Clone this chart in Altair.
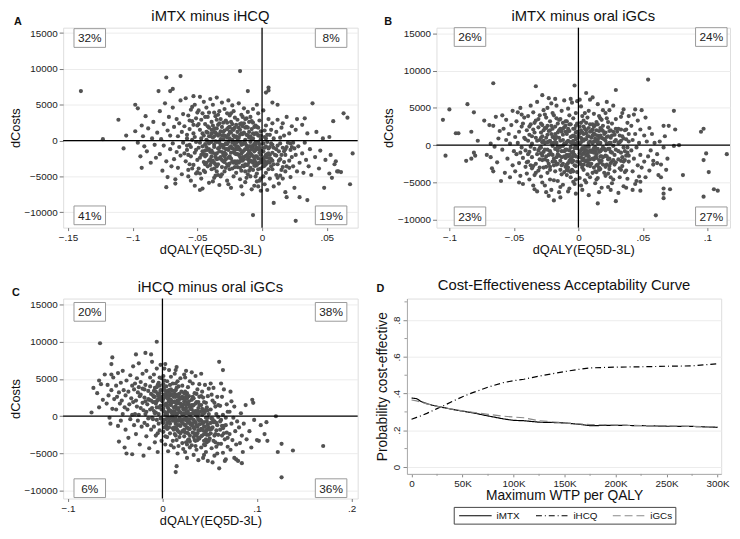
import altair as alt
import pandas as pd

FONT = "Liberation Sans"
DOT = "#525252"

# ---------------- data (dQALY in thousandths, dCosts in currency units) ----------------
A_TITLE = "iMTX minus iHCQ"
A_PCT = ["32%", "8%", "41%", "19%"]  # NW, NE, SW, SE
A_POINTS = [
    (-140, 6900), (-123, 200), (-111, 2900), (-107, -1100), (-105, 700), (-98, 5000), (-96, 4500),
    (-93, -3800), (-90, 3400), (-80, 6900), (-74, 8800), (-63, 9000), (-71, 6900), (-69, 7200),
    (-74, -6500), (-48, -6900), (-17, 9700), (-11, 6900), (5, 7400), (-7, -10400), (26, -11200),
    (63, 3800), (66, 3200), (70, -1800), (68, -6100), (39, 5200), (52, 500), (55, 2700), (48, -6600),
    (57, -2900), (59, -4300), (35, -8300), (9, -8700), (19, -7900),
    (-98, 1300), (-96, -300), (-94, -2200), (-92, 600), (-91, -800), (-93, 2100),
    (-89, -1500), (-88, 1700), (-86, -3100), (-85, 300), (-84, 2600), (-83, -600), (-82, -2400), (-81, 1100),
    (-79, 4100), (-79, -1900), (-78, 200), (-77, -4200), (-76, 2300), (-76, -700), (-75, 5200), (-74, -2900),
    (-73, 1400), (-73, -5100), (-72, 3300), (-71, -1200), (-71, 700), (-70, -3600),
    (-69, 4600), (-69, -400), (-68, 1900), (-68, -2600), (-67, -5400), (-66, 3000), (-66, -1600), (-65, 600),
    (-65, -3800), (-64, 2400), (-64, -900), (-63, 5600), (-63, -2100), (-62, 1200), (-62, -4700), (-61, 3700),
    (-61, -300), (-60, -1800), (-60, 2000), (-67, -6000),
    (-59, 5900), (-59, -2900), (-58, 800), (-58, -1300), (-57, 3500), (-57, -4100), (-56, 1600), (-56, -600),
    (-55, 4300), (-55, -2200), (-55, -5600), (-54, 2700), (-54, 100), (-53, -3400), (-53, 1000), (-52, 5000),
    (-52, -1700), (-52, -6300), (-51, 3100), (-51, -200), (-51, -4600), (-50, 2100), (-50, -2700), (-56, -3300),
    (-54, 4700), (-58, -700), (-53, 6200), (-57, -5000),
    (-49, -1000), (-49, 4200), (-49, -3900), (-48, 1500), (-48, -2400), (-48, 6100), (-47, 300), (-47, -5300),
    (-47, 2900), (-46, -1500), (-46, 3800), (-46, -6700), (-45, 700), (-45, -3000), (-45, 5400), (-44, -500),
    (-44, 2300), (-44, -4400), (-43, 1200), (-43, -2000), (-43, 4600), (-42, -3600), (-42, -100), (-42, 3300),
    (-41, -5900), (-41, 1800), (-41, -1200), (-40, 5800), (-40, -2600), (-40, 600), (-46, -800), (-44, -3300),
    (-42, 2000), (-48, -4600), (-41, 3900), (-45, -1900),
    (-39, -1400), (-39, 2600), (-39, -4000), (-38, 400), (-38, -2800), (-38, 5000), (-37, -600), (-37, 1700),
    (-37, -5200), (-36, 3400), (-36, -1900), (-36, -3300), (-35, 900), (-35, -200), (-35, 6000), (-34, -4800),
    (-34, 2200), (-34, -1100), (-33, 4100), (-33, -2500), (-33, -6200), (-32, 1300), (-32, -700), (-32, 3000),
    (-31, -3700), (-31, -1600), (-31, 5300), (-30, 200), (-30, -2900), (-30, 2500), (-39, 1000), (-38, -5700),
    (-37, 3900), (-36, -2300), (-35, -4300), (-34, 700), (-33, -300), (-32, -5000), (-31, 1900), (-30, -1000),
    (-35, 2900), (-37, -3100),
    (-29, -1700), (-29, 4400), (-29, -4300), (-28, 600), (-28, -2600), (-28, 2800), (-27, -500), (-27, -5600),
    (-27, 1600), (-26, 5600), (-26, -1300), (-26, -3500), (-25, 300), (-25, 3500), (-25, -2200), (-24, -6600),
    (-24, 1100), (-24, -800), (-23, 2300), (-23, -3900), (-23, 4900), (-22, -1600), (-22, -200), (-22, -5000),
    (-21, 1800), (-21, 3200), (-21, -2900), (-20, -1000), (-20, 600), (-20, -4500), (-29, 1400), (-28, -1200),
    (-27, 3800), (-26, -6100), (-25, -3200), (-24, 2600), (-23, -1100), (-22, 4100), (-21, -600), (-20, 2200),
    (-26, 800), (-24, -2500), (-22, 1500), (-28, -3800),
    (-19, -1900), (-19, 2900), (-19, -3700), (-18, 400), (-18, -1000), (-18, 5200), (-17, -5400), (-17, 1500),
    (-17, -2300), (-16, 3600), (-16, -600), (-16, -4200), (-15, 900), (-15, -2800), (-15, -7500), (-14, 2400),
    (-14, -1400), (-14, 4500), (-13, -3300), (-13, 100), (-13, -5800), (-12, 1900), (-12, -2100), (-12, 3100),
    (-11, -900), (-11, -4700), (-11, 700), (-10, -3000), (-10, 2600), (-10, -1500), (-19, 1200), (-18, -3100),
    (-17, -200), (-16, -6400), (-15, 3300), (-14, -2600), (-13, -1200), (-12, -5200), (-11, 4000), (-10, 400),
    (-17, 2300), (-15, -500), (-13, 1800), (-11, -2600),
    (-9, -1800), (-9, 3300), (-9, -5000), (-8, 200), (-8, -2900), (-8, 1600), (-7, -700), (-7, -4100),
    (-7, 4400), (-6, -1500), (-6, 900), (-6, -6300), (-5, -3500), (-5, 2100), (-5, -300), (-4, -2200),
    (-4, 5000), (-4, -4600), (-3, 700), (-3, -1200), (-3, -3200), (-2, 2800), (-2, -500), (-2, -5600),
    (-1, 1300), (-1, -2600), (-1, -7000), (-9, -800), (-8, -6800), (-7, 2500), (-6, -2700), (-5, -5000),
    (-4, 1000), (-3, 3800), (-2, -1700), (-1, -3900), (-5, -1300), (-3, -6400), (-7, -1000), (-1, 200),
    (1, -1500), (1, 4200), (1, -3600), (2, 500), (2, -2300), (2, -6100), (3, -800), (3, 2100),
    (3, -4500), (4, -1900), (4, -200), (4, -6900), (5, 3000), (5, -3000), (5, -1100), (6, 800),
    (6, -5300), (7, -2600), (7, 1500), (7, -400), (8, -4000), (8, -1700), (8, 5300), (9, -3300),
    (9, 300), (9, -6400), (3, 6700), (5, 7000), (2, -2900), (6, -2000), (8, 2400), (1, -5000),
    (11, -2100), (11, 1200), (11, -4800), (12, -700), (12, -3300), (12, 2900), (13, -1500), (13, -6000),
    (14, 400), (14, -2600), (15, -4100), (15, 1800), (16, -1000), (16, -5300), (17, -3000), (17, 700),
    (18, -2000), (18, -7200), (19, 3300), (19, -3600), (12, 5000), (14, -400), (16, 2400), (18, -1200),
    (21, -2800), (21, 1000), (22, -5100), (22, -1300), (23, 2000), (24, -3600), (24, -300), (25, -6600),
    (26, -2000), (26, 1500), (27, -4300), (27, 3000), (28, -800), (29, -3100), (29, -7900), (23, -900),
    (31, -1800), (31, 2200), (32, -4500), (33, -300), (34, -2700), (35, 1000), (36, -3600), (37, -1200),
    (38, -4800), (33, 3100),
    (41, -2300), (42, 1200), (44, -3900), (45, -1400), (47, 300), (49, -2700),
    (52, -4600), (54, -5200), (56, -3300), (58, -4300), (61, -4400), (53, -2000),
]
A_CORE = [
    (-58, 300), (-57, -2000), (-56, 2800), (-55, -900), (-54, -3900), (-53, 2200), (-52, 500), (-51, -1300),
    (-50, 3900), (-50, -4400), (-49, 2300), (-48, -300), (-47, -2000), (-46, 1000), (-45, -4200), (-44, 3300),
    (-43, -900), (-42, 1100), (-41, -2800), (-40, -1600), (-39, -200), (-38, 2100), (-37, -3900), (-36, 1100),
    (-35, -2600), (-34, 3600), (-33, -1500), (-32, 200), (-31, -4700), (-30, 1200), (-39, -3000), (-37, 600),
    (-35, 1700), (-33, 2400), (-31, 700), (-29, -600), (-28, -1900), (-27, 400), (-26, -2400), (-25, -1000),
    (-24, 3800), (-23, 100), (-22, -3100), (-21, -1800), (-20, -3200), (-29, -3000), (-27, 2500), (-25, 1900),
    (-23, -2900), (-21, 500), (-19, -800), (-18, 1800), (-17, -1300), (-16, -2600), (-15, 2000), (-14, -300),
    (-13, -4300), (-12, 800), (-11, -1900), (-10, -4200), (-19, 300), (-18, -2000), (-17, -3800), (-16, 1000),
    (-15, -1600), (-14, -3600), (-13, 3000), (-12, -3400), (-11, 1800), (-10, -2300), (-9, -2800), (-8, -1200),
    (-7, -3100), (-6, -500), (-5, -2200), (-4, -3400), (-3, -200), (-2, -3100), (-1, -1400), (-9, 600),
    (-8, 2700), (-7, 300), (-6, -3500), (-5, 1000), (-4, -1000), (-3, 1800), (-2, 700), (-1, -5300),
    (-6, 1900), (-4, -5700), (1, -2600), (2, -1000), (3, -2000), (4, -3000), (5, -4000), (6, -900),
    (7, -3600), (8, -2800), (9, -1000), (10, -2000), (2, 1400), (4, 800), (6, -3100), (8, -600),
    (11, -1200), (13, -2800), (15, -2000), (17, -1500), (19, -900), (14, -4900), (16, -3700), (18, -4300),
    (21, -3800), (23, -2300), (25, -1100), (12, -5200), (20, -300), (22, -400), (-36, -4900), (-44, -1400),
    (-44, -2200), (-43, 100), (-42, -1300), (-41, 600), (-40, -3400), (-39, 1500), (-38, -1700), (-37, -900),
    (-36, -100), (-35, -1800), (-34, -2500), (-33, 900), (-32, -2300), (-31, -600), (-30, -2000), (-29, 700),
    (-28, -400), (-27, -3300), (-26, -200), (-25, 1200), (-24, -1700), (-23, -300), (-22, 700), (-21, -3700),
    (-20, -1900), (-19, -2900), (-18, -100), (-17, 800), (-16, -1800), (-15, -3500), (-14, 1100), (-13, -2200),
    (-12, -700), (-11, -3400), (-10, -800), (-9, -3800), (-8, -2000), (-7, 1000), (-6, -2300), (-5, -600),
    (-4, 1900), (-3, -2500), (-2, -1000), (-1, -2000), (0, -3000), (1, -400), (2, -3500), (3, 300),
    (4, -2400), (5, -1800), (-43, -3100), (-41, -400), (-39, -2200), (-37, 1200), (-35, -3600), (-33, -1000),
    (-31, -2700), (-29, -2200), (-27, -1200), (-25, -4000), (-23, 1600), (-21, -1300), (-19, -1200), (-17, -2900),
    (-15, -2300), (-13, -400), (-11, -1200), (-9, -200), (-7, -2200), (-5, -3000), (-3, -4000), (-1, 700),
    (1, -3100), (3, -3300), (6, -2500), (-26, 1800), (-16, 2400), (-34, -3300), (-20, -300), (-10, 1200),
]

B_TITLE = "iMTX minus oral iGCs"
B_PCT = ["26%", "24%", "23%", "27%"]
B_POINTS = [
    (-105, 3400), (-100, 4800), (-103, -1400), (-95, 1600), (-93, 1600), (-86, 5500), (-83, 1800),
    (-87, -2100), (-83, -1800), (-81, 4400), (-81, -1000), (-80, -1400), (-78, 600), (-73, 3300),
    (-71, -1300), (-66, 8300), (-68, 200), (-67, -3100), (-66, -3500), (-60, -4800), (-33, 7900),
    (-34, -5900), (-19, -7400), (-3, 8000), (54, 8800), (74, 4600), (66, 2600), (70, 2600), (75, 2100),
    (95, 1800), (97, 2200), (74, -100), (78, 0), (115, -1200), (99, -1100), (97, -2000), (101, -3600),
    (81, -4000), (97, -6900), (105, -5900), (108, -6100), (60, -9400), (66, -5800), (66, -6500),
    (71, -5900), (66, -7100), (62, -4000), (64, -4300), (68, -3300), (48, -4900), (48, -6100),
    (58, -2100), (61, -2400), (29, -7500), (15, -7800), (29, 7400), (-14, -7000), (-23, -6800), (-25, -6300),
    (-69, 2700), (-68, -1600), (-66, 2600), (-65, -200), (-64, 3800), (-63, -2300), (-62, 900), (-61, 1900),
    (-59, 4000), (-59, -600), (-58, 2200), (-57, -3700), (-56, 700), (-56, 3400), (-55, -1800), (-54, 1500),
    (-53, -4300), (-53, 200), (-52, 2700), (-51, -2700), (-51, 4600), (-50, -800),
    (-49, 1100), (-49, -3500), (-48, 3200), (-48, -1200), (-47, 4400), (-47, 300), (-46, -2400), (-46, 1800),
    (-45, -4100), (-45, 5000), (-44, -300), (-44, 2500), (-43, -1700), (-43, -5200), (-42, 1000), (-42, 3700),
    (-41, -2900), (-41, -700), (-40, 2000), (-40, -3800), (-44, 4100), (-46, -5000),
    (-39, 600), (-39, -2200), (-39, 3900), (-38, -4600), (-38, 1400), (-38, -900), (-37, 2800), (-37, 5300),
    (-36, -3100), (-36, 200), (-36, -1600), (-35, 4400), (-35, 2100), (-34, -4000), (-34, -500), (-33, 1000),
    (-33, 3300), (-33, -2500), (-32, -6200), (-32, 5800), (-32, -1200), (-31, 2400), (-31, -3400), (-30, 700),
    (-30, 4000), (-30, -1900), (-37, -2700), (-35, -5400), (-31, -700), (-34, 1700),
    (-29, -300), (-29, 2900), (-29, -4200), (-28, 1200), (-28, -2000), (-28, 6700), (-27, 4700), (-27, -900),
    (-27, -3000), (-26, 300), (-26, 2300), (-26, -5400), (-25, -1500), (-25, 3700), (-25, 1000), (-24, -3700),
    (-24, 5000), (-24, -600), (-23, 1900), (-23, -2500), (-23, 6300), (-22, -4600), (-22, 600), (-22, 3200),
    (-21, -1200), (-21, -6000), (-21, 1500), (-20, 4300), (-20, -2200), (-20, -100), (-28, -5000), (-26, 4100),
    (-24, 2600), (-22, -3300), (-29, 1700), (-21, 5600),
    (-19, -1800), (-19, 1100), (-19, 4000), (-18, -3500), (-18, -500), (-18, 2500), (-17, 5300), (-17, -2600),
    (-17, 300), (-16, -4800), (-16, 1700), (-16, -1200), (-15, 3400), (-15, -300), (-15, -6300), (-14, 2200),
    (-14, -2100), (-14, 600), (-13, -3900), (-13, 4600), (-13, -800), (-12, 1400), (-12, -5300), (-12, 3000),
    (-11, -1500), (-11, 200), (-11, 6000), (-10, -2900), (-10, 2600), (-10, -600), (-19, -4700), (-17, 3600),
    (-15, 1000), (-13, -1600), (-11, -3600), (-18, 6200), (-16, -200), (-14, -5600), (-12, -100), (-10, 1800),
    (-9, -1300), (-9, 3200), (-9, -4000), (-8, 600), (-8, -2400), (-8, 4900), (-7, -700), (-7, 1900),
    (-7, -5800), (-6, 2800), (-6, -1900), (-6, -300), (-5, -3300), (-5, 5700), (-5, 1200), (-4, -900),
    (-4, -4900), (-4, 3600), (-3, 200), (-3, -2700), (-3, 2200), (-2, -1500), (-2, 4300), (-2, -6500),
    (-1, 900), (-1, -3600), (-1, -400), (-9, 1500), (-8, -6200), (-7, 4000), (-6, -4300), (-5, -1000),
    (-4, 600), (-3, -5200), (-2, 1700), (-1, 2900), (-1, 5900), (-6, 6200), (-8, -3400), (-4, -2100),
    (-2, -200), (-9, -2600),
    (1, -1100), (1, 2500), (1, -4400), (2, 400), (2, -2600), (2, 5200), (3, -400), (3, 1700),
    (3, -6000), (4, 3300), (4, -1800), (4, -3300), (5, 800), (5, -900), (5, 4300), (6, -2200),
    (6, -5000), (6, 2000), (7, -200), (7, 3700), (7, -3900), (8, 1200), (8, -1500), (8, -6700),
    (9, 2800), (9, -2800), (9, 500), (1, 6100), (2, -5400), (3, 3900), (4, -500), (5, -4700),
    (6, 7000), (7, -1200), (8, 4600), (9, -4300), (2, 1000), (4, 1500), (6, -700), (8, -200),
    (3, -2000), (9, 6100),
    (11, -700), (11, 2100), (11, -3700), (12, 500), (12, -1900), (12, 4200), (13, -5100), (13, 1400),
    (13, -300), (14, 3100), (14, -2700), (14, -1200), (15, 700), (15, -4400), (15, 5500), (16, -2000),
    (16, 1900), (16, -6300), (17, -800), (17, 3600), (17, -3200), (18, 1000), (18, -1500), (18, -5700),
    (19, 2600), (19, -300), (19, 4700), (11, 6400), (12, -3000), (13, 2700), (14, -4600), (15, -500),
    (16, 3900), (17, -2300), (18, 2100), (19, -2600), (11, 300), (13, -1600), (15, 1300), (17, 300),
    (21, -1400), (21, 1700), (21, -4100), (22, 200), (22, 3600), (22, -2600), (23, -500), (23, -5600),
    (23, 2400), (24, -1800), (24, 4700), (24, -3200), (25, 1000), (25, -900), (25, -6000), (26, 2900),
    (26, -2200), (27, -100), (27, -4600), (27, 5300), (28, 1400), (28, -1300), (28, -3500), (29, 3500),
    (29, -600), (21, 4300), (23, -3800), (25, 2000), (26, -5100), (28, -2600), (29, 700), (22, 5800),
    (24, 300), (26, -1000),
    (31, -1900), (31, 2200), (32, -4300), (32, 400), (33, 3800), (33, -1000), (34, -2800), (34, 1200),
    (35, -5500), (35, 4800), (35, -300), (36, 2000), (36, -3600), (37, -1400), (37, 800), (38, 3000),
    (38, -4500), (39, -2200), (39, 1500), (31, -6400), (32, -3100), (33, 600), (34, 4300), (36, -800),
    (37, -5700), (38, -300), (39, 3900), (33, -2100),
    (41, -700), (41, 2600), (42, -3500), (42, 700), (43, 4100), (43, -1800), (44, -5200), (44, 1500),
    (45, -300), (46, 3300), (46, -2700), (47, -4200), (47, 300), (48, 2100), (48, -1300), (49, 4700),
    (49, -3000), (42, -6000), (45, -4800), (44, 4800),
    (51, 1300), (51, -2200), (52, -4300), (52, 3700), (53, 500), (54, -1500), (55, -3400), (55, 2300),
    (56, -700), (57, 1500), (58, -2600), (59, 300),
    (61, -1200), (63, 500), (64, -2600), (66, -300), (67, 1200), (69, -1800),
]
B_CORE = [
    (-45, -1000), (-43, 2900), (-41, 800), (-40, -2300), (-39, -1200), (-38, 2500), (-37, -200), (-36, 1200),
    (-35, -2800), (-34, 3000), (-33, -3700), (-32, 600), (-31, 3500), (-30, -3000), (-29, -1100), (-28, 400),
    (-27, 2000), (-26, -1900), (-25, -2900), (-24, 1400), (-23, -1300), (-22, 2000), (-21, 300), (-20, 1100),
    (-19, -2700), (-18, 1500), (-17, -1600), (-16, 2900), (-15, -1400), (-14, -3300), (-13, 1800), (-12, -2500),
    (-11, 2400), (-10, -1700), (-9, 400), (-8, -1500), (-7, 2800), (-6, 1100), (-5, -2300), (-4, 2200),
    (-3, -1300), (-2, 2600), (-1, -2200), (-9, -3300), (-7, -2100), (-5, 300), (-3, 1200), (-1, 1800),
    (-8, 1900), (-4, -3500), (1, 200), (2, -1600), (3, 800), (4, 2500), (5, -2100), (6, 800),
    (7, 1200), (8, -2400), (9, 1800), (10, -900), (1, 1600), (2, 3000), (3, -3000), (4, -1100),
    (5, 2200), (6, -1400), (7, -2700), (8, 300), (9, -1900), (10, 1000), (11, -1800), (12, 1600),
    (13, -800), (14, 500), (15, -2600), (16, 1000), (17, 2300), (18, -600), (19, -1600), (20, 1500),
    (11, 1300), (12, -1000), (13, -3500), (14, 2000), (15, 2800), (16, -3300), (17, -1500), (18, 3400),
    (19, 900), (20, -3700), (21, 600), (22, -1500), (23, 1200), (24, -500), (25, -2400), (26, 1300),
    (27, -2000), (28, 500), (29, -2300), (30, 1800), (21, -2900), (23, 3100), (25, -4300), (27, 1800),
    (29, 2200), (31, -800), (32, 1300), (33, -3300), (34, -1600), (35, 900), (36, -2000), (37, 2100),
    (38, -1000), (39, 500), (31, 300), (33, 2100), (35, -2200), (37, -3400), (39, -1400), (-2, -4600),
    (-30, -400), (-29, 1000), (-28, -1400), (-27, 600), (-26, -600), (-25, 2300), (-24, -2100), (-23, 500),
    (-22, -800), (-21, 2600), (-20, -1300), (-19, 300), (-18, -2200), (-17, 1100), (-16, -700), (-15, 2000),
    (-14, -200), (-13, -2700), (-12, 700), (-11, -800), (-10, 3200), (-9, -600), (-8, 2200), (-7, -1300),
    (-6, 400), (-5, -1600), (-4, 1300), (-3, -400), (-2, -2800), (-1, 300), (0, 1300), (1, -2300),
    (2, 2000), (3, -1200), (4, 600), (5, -300), (6, 1600), (7, -2000), (8, 2300), (9, -700),
    (10, -2500), (11, 2800), (12, -400), (13, 900), (14, -1700), (15, 300), (16, -900), (17, 1300),
    (18, -2100), (19, 1900), (20, -500), (21, -700), (22, 1100), (23, -1900), (24, 1900), (25, 300),
    (-28, 2700), (-24, 400), (-20, 2200), (-16, -2500), (-12, 2200), (-8, -3000), (-4, -1300), (0, -1600),
    (4, -2600), (8, -900), (12, 2500), (16, -3000), (20, 800), (24, -2800), (-22, -2900), (-18, 800),
    (-14, 3500), (-10, 200), (-6, -3600), (-2, 800), (2, -700), (6, 3000), (10, 1900), (14, -3600),
]

C_TITLE = "iHCQ minus oral iGCs"
C_PCT = ["20%", "38%", "6%", "36%"]
C_POINTS = [
    (-66, 9800), (-75, 500), (-73, 3800), (-67, 4800), (-55, -1000), (-54, 7000), (-53, 7900),
    (-54, 5600), (-6, 10000), (-46, -3400), (15, -6700), (14, -7500), (-32, -5100), (170, -4000),
    (138, -4600), (126, -8200), (122, -4800), (126, -3700), (120, 0), (95, 2200), (96, 1800),
    (110, -800), (60, 7300), (64, 6200), (84, -6300), (80, -6000), (60, -7000), (102, -3300),
    (111, -3300), (-40, -4200), (-38, -5000), (-20, -5300), (-28, 8300), (-18, 8500), (-12, 8300),
    (-69, 3100), (-67, 1200), (-65, 4300), (-63, 2200), (-61, 5600),
    (-59, 1700), (-58, 4200), (-57, 2800), (-56, -200), (-54, 3500), (-53, 1000), (-52, 5200), (-51, 2300),
    (-49, 4100), (-49, 900), (-48, 2600), (-47, -1300), (-47, 5800), (-46, 3200), (-45, 1700), (-44, -600),
    (-44, 4500), (-43, 2100), (-42, 6100), (-42, 300), (-41, 3500), (-40, 1200),
    (-39, -1800), (-39, 2800), (-38, 4800), (-37, 900), (-36, 3300), (-36, -2900), (-35, 1600), (-34, 5500),
    (-34, -400), (-33, 2400), (-32, 4100), (-32, 200), (-31, 6700), (-31, 1900), (-30, -1200), (-30, 3600),
    (-29, 300), (-29, 4400), (-28, 2100), (-28, -2400), (-27, 5100), (-27, 1300), (-26, -600), (-26, 3200),
    (-25, 7100), (-25, 200), (-24, 2700), (-24, -3800), (-23, 4600), (-23, 1100), (-22, -1400), (-21, 3700),
    (-21, 5700), (-20, 800),
    (-19, 2500), (-19, -900), (-18, 4200), (-18, 300), (-17, -2700), (-17, 6100), (-16, 1600), (-15, -300),
    (-15, 3400), (-14, -4300), (-14, 2200), (-13, 5200), (-13, 900), (-12, -1800), (-12, 3000), (-11, 7300),
    (-11, -200), (-10, 1900), (-10, 4700), (-16, -1200),
    (-9, 2600), (-9, -1400), (-9, 5600), (-8, 400), (-8, 3800), (-7, -2600), (-7, 1700), (-6, 6400),
    (-6, -500), (-5, 3000), (-5, -4800), (-4, 1200), (-4, 4500), (-3, -1900), (-3, 2400), (-2, -300),
    (-2, 6900), (-2, 3500), (-1, 900), (-1, -3300), (-1, 5100), (-4, -1000), (-6, 2000), (-8, -3500),
    (1, -2100), (1, 2300), (1, 5400), (2, 600), (2, -500), (2, 3900), (3, -3800), (3, 1600),
    (3, 7000), (4, -1300), (4, 2900), (5, 200), (5, -2800), (5, 4700), (6, 1100), (6, -4700),
    (6, 3400), (7, -700), (7, 2000), (7, 6200), (8, -2300), (8, 800), (8, 4200), (9, -3900),
    (9, 1500), (9, -100), (1, -900), (2, 6400), (3, -2700), (4, 4000), (5, 1300), (7, -1500),
    (8, 2800), (9, 5300),
    (11, -1600), (11, 1900), (11, 4400), (12, -300), (12, -4200), (12, 2600), (13, 600), (13, -2400),
    (13, 5700), (14, 1300), (14, -1000), (14, 3500), (15, -3200), (15, 200), (15, 6600), (16, 2100),
    (16, -1900), (16, -5000), (17, 900), (17, 4000), (17, -600), (18, -2800), (18, 1700), (18, 3000),
    (19, -1300), (19, 500), (19, 5100), (11, -3300), (12, 700), (13, 3000), (14, -2600), (15, 1700),
    (16, 4700), (17, -4000), (18, -200), (19, 2400), (14, 6200), (16, -600),
    (21, -2000), (21, 1300), (21, 4100), (22, -400), (22, -4400), (22, 2400), (23, 300), (23, -2700),
    (23, 5600), (24, 1000), (24, -1200), (24, 3300), (25, -3500), (25, -200), (25, 6100), (26, 1800),
    (26, -2200), (26, -5600), (27, 700), (27, 3900), (27, -900), (28, -3100), (28, 1500), (28, 2700),
    (29, -1700), (29, 200), (29, 4700), (21, -3600), (22, 900), (23, 2000), (24, -4800), (25, 1100),
    (26, 3100), (27, -1600), (28, -400), (29, -4200), (24, 5200), (26, -3800),
    (31, -1200), (31, 2200), (31, -3900), (32, 400), (32, -2200), (32, 4400), (33, -500), (33, -5200),
    (33, 1500), (34, 3100), (34, -1700), (34, -3200), (35, 700), (35, -800), (35, 5400), (36, -2600),
    (36, 1900), (36, -4500), (37, -100), (37, 3600), (38, -1900), (38, 1100), (38, -5900), (39, 2600),
    (39, -3000), (39, -600), (31, 5900), (33, -2800), (35, -4000), (36, 3000), (37, -1400), (38, 300),
    (39, 4300), (34, 600),
    (41, -1700), (41, 1500), (41, -4200), (42, 200), (42, -2600), (42, 3300), (43, -900), (43, -5600),
    (44, 1900), (44, -1400), (44, -3300), (45, 600), (45, 4200), (46, -2100), (46, -200), (46, -4800),
    (47, 1200), (47, -3500), (48, 2700), (48, -1100), (48, -6000), (49, 300), (49, -2500), (41, 5700),
    (43, 2500), (45, -3900), (47, -700), (49, 3700), (44, -5200), (42, -1000),
    (51, -2300), (51, 900), (52, -4300), (52, -300), (53, 2100), (53, -1500), (54, -3300), (54, 3800),
    (55, -700), (55, -5300), (56, 1300), (56, -2400), (57, -4100), (57, 300), (58, 2600), (58, -1200),
    (59, -3700), (59, -100), (51, 4400), (53, -6200), (55, 1800), (57, -1900), (59, 1500), (52, 2900),
    (54, -800), (58, -5000),
    (61, -1800), (61, 1400), (62, -3700), (62, -500), (63, 2600), (63, -2600), (64, -4900), (64, 200),
    (65, -1300), (65, 3600), (66, -3100), (67, -200), (67, -5800), (68, 1600), (68, -2200), (69, -4100),
    (69, 600), (62, 4400), (66, -6000), (64, -1600),
    (71, -2400), (71, 600), (72, -4500), (73, -1000), (73, 2000), (74, -3200), (75, -200), (76, -5600),
    (76, 1300), (77, -2000), (78, -3800), (79, -700), (72, 3300), (78, -5800),
    (81, -1500), (82, -3600), (83, 400), (84, -2600), (85, -4800), (86, -1000), (88, 1500), (89, -3100),
    (92, -2000), (94, -4200), (97, -500), (100, -3200), (104, -1200), (108, -2400),
]
C_CORE = [
    (-25, 3900), (-23, 2900), (-21, 1800), (-19, 3600), (-17, 600), (-15, 2300), (-13, 4000), (-11, 1100),
    (-9, 3400), (-7, 500), (-5, 2200), (-3, 4100), (-1, 2600), (-8, 1900), (-6, 3900), (-4, 2700),
    (-2, 1400), (-12, 2100), (-18, 2000), (-10, -400), (1, 1000), (2, 2900), (3, 200), (4, 1700),
    (5, 3300), (6, -200), (7, 2700), (8, 1600), (9, 3600), (10, 400), (1, 3600), (2, -1500),
    (3, 2600), (4, 400), (5, -900), (6, 2300), (7, 800), (8, -1000), (9, 2200), (10, 2800),
    (11, 100), (12, 1200), (13, 2000), (14, -300), (15, 1000), (16, 2900), (17, 1800), (18, 600),
    (19, 1700), (20, -700), (11, 2900), (12, -1800), (13, -600), (14, 2600), (15, -1700), (16, 400),
    (17, 2600), (18, -1200), (19, -2300), (20, 1300), (21, 200), (22, 1600), (23, -1100), (24, 2200),
    (25, 500), (26, -600), (27, 1700), (28, 300), (29, -2600), (30, 1000), (21, 2600), (22, -2000),
    (23, 900), (24, -2200), (25, 2700), (26, -1500), (27, -3200), (28, -1700), (29, 1200), (30, -1100),
    (31, -300), (32, 1400), (33, -1500), (34, -700), (35, 1700), (36, -1200), (37, 700), (38, -2900),
    (39, 1500), (40, -500), (31, 900), (33, 500), (35, -2500), (37, -2300), (39, -1900), (41, -600),
    (42, -1800), (43, 700), (44, -2400), (45, -1400), (46, 900), (47, -2500), (48, -200), (49, -1500),
    (50, -3000), (51, -900), (53, -400), (55, -2600), (57, -900), (59, -2500), (61, -700), (63, -1300),
    (65, -2300), (67, -1200), (69, -2900), (44, 400), (46, -3100), (48, -3300), (52, -1700), (56, -3500),
    (-10, 2800), (-9, 700), (-8, 2600), (-7, 3300), (-6, 1200), (-5, 4200), (-4, 300), (-3, 3100),
    (-2, 2200), (-1, -300), (0, 2000), (1, 4300), (2, 1500), (3, 3400), (4, -400), (5, 2500),
    (6, 600), (7, 3500), (8, -300), (9, 700), (10, 1900), (11, 3400), (12, 400), (13, -1500),
    (14, 1800), (15, 3800), (16, -1200), (17, 1100), (18, 2300), (19, -400), (20, 2400), (21, -900),
    (22, 400), (23, 3100), (24, -500), (25, 1500), (26, 400), (27, -2300), (28, 2000), (29, -800),
    (30, 300), (31, 1500), (32, -1000), (33, 2400), (34, -2300), (35, 200), (36, 500), (37, -3200),
    (38, 1900), (39, -1100), (40, 600), (41, -2700), (42, 1000), (43, -1900), (44, -800), (45, -2400),
    (46, 1800), (47, -1800), (48, 800), (49, -3300), (0, -800), (2, 4800), (5, -1700), (8, 3100),
    (11, -600), (14, 4400), (17, -2100), (20, 3300), (23, -1800), (26, 2400), (29, -3400), (32, 2600),
    (35, -3300), (38, -400), (41, 2700), (44, -3800), (47, -200), (50, -1800), (-5, -2300), (-3, 5200),
]

# CEAC (panel D)
D_TITLE = "Cost-Effectiveness Acceptability Curve"
SERIES = ["iMTX", "iHCQ", "iGCs"]
WTP = [0, 5000, 10000, 15000, 20000, 25000, 30000, 40000, 50000, 60000, 75000, 90000,
       100000, 110000, 125000, 140000, 150000, 165000, 175000, 200000, 225000, 250000, 275000, 300000]
P_IMTX = [0.376, 0.372, 0.355, 0.345, 0.337, 0.331, 0.325, 0.314, 0.304, 0.295, 0.278, 0.262,
          0.254, 0.252, 0.244, 0.242, 0.240, 0.232, 0.225, 0.227, 0.225, 0.222, 0.221, 0.216]
P_IHCQ = [0.260, 0.270, 0.280, 0.292, 0.305, 0.318, 0.330, 0.357, 0.383, 0.405, 0.435, 0.460,
          0.470, 0.478, 0.495, 0.510, 0.520, 0.533, 0.540, 0.544, 0.546, 0.549, 0.551, 0.563]
P_IGCS = [0.365, 0.360, 0.352, 0.344, 0.337, 0.330, 0.325, 0.315, 0.306, 0.298, 0.287, 0.277,
          0.272, 0.268, 0.252, 0.245, 0.240, 0.235, 0.231, 0.228, 0.226, 0.224, 0.221, 0.217]
D_MINOR_P = [0.1, 0.3, 0.5, 0.7, 0.9]
D_MINOR_WTP = [25000, 75000, 125000, 175000, 225000, 275000]

COST_TICKS = [-10000, -5000, 0, 5000, 10000, 15000]
SERIES_COLORS = ["#000000", "#000000", "#8a8a8a"]
SERIES_DASH = [[1, 0], [6, 3, 1, 3], [8, 4]]

ONE = pd.DataFrame({"k": [0]})


def text_layer(txt, x, y, size, bold=False, align="center", baseline="alphabetic"):
    return alt.Chart(ONE).mark_text(font=FONT, fontSize=size, fontWeight="bold" if bold else "normal",
                                    align=align, baseline=baseline, color="#111").encode(
        x=alt.value(x), y=alt.value(y), text=alt.value(txt))


def scatter_panel(points, pcts, title, letter, xdom, xticks, ydom, w, h, boxes, letter_xy, title_y):
    df = pd.DataFrame(points, columns=["q", "dCosts"])
    df["dQALY"] = df["q"] / 1000.0
    xs = alt.Scale(domain=xdom, nice=False, zero=False)
    ys = alt.Scale(domain=ydom, nice=False, zero=False)
    xax = alt.Axis(title="dQALY(EQ5D-3L)", values=xticks,
                   labelExpr="replace(format(datum.value, '.2~f'), '0.', '.')",
                   grid=False, domain=False, tickSize=3, tickColor="#777", labelPadding=2,
                   labelFontSize=10, labelColor="#222", titleFontSize=13, titlePadding=1,
                   titleFontWeight="normal", titleColor="#111", labelFont=FONT, titleFont=FONT)
    yax = alt.Axis(title="dCosts", values=COST_TICKS, format="d", grid=True, gridColor="#ececec",
                   domain=False, tickSize=4, tickColor="#777", labelPadding=2, labelFontSize=10,
                   labelColor="#222", titleFontSize=13, titlePadding=2, titleFontWeight="normal",
                   titleColor="#111", labelFont=FONT, titleFont=FONT)
    pts = alt.Chart(df).mark_circle(size=18, color=DOT, opacity=1).encode(
        x=alt.X("dQALY:Q", scale=xs, axis=xax),
        y=alt.Y("dCosts:Q", scale=ys, axis=yax),
    )
    zero = pd.DataFrame({"dQALY": [0.0], "dCosts": [0.0]})
    vrule = alt.Chart(zero).mark_rule(color="black", strokeWidth=1.3).encode(
        x=alt.X("dQALY:Q", scale=xs, axis=xax))
    hrule = alt.Chart(zero).mark_rule(color="black", strokeWidth=1.3).encode(
        y=alt.Y("dCosts:Q", scale=ys, axis=yax))
    layers = [pts, vrule, hrule]
    for pct, (x0, y0) in zip(pcts, boxes):
        layers.append(alt.Chart(ONE).mark_rect(fill="white", stroke="#999", strokeWidth=1).encode(
            x=alt.value(x0), x2=alt.value(x0 + 32), y=alt.value(y0), y2=alt.value(y0 + 19)))
        layers.append(alt.Chart(ONE).mark_text(font=FONT, fontSize=12, color="#222").encode(
            x=alt.value(x0 + 16), y=alt.value(y0 + 10), text=alt.value(pct)))
    layers.append(text_layer(letter, letter_xy[0], letter_xy[1], 11, bold=True, align="left"))
    layers.append(text_layer(title, w / 2, title_y, 15))
    return alt.layer(*layers).properties(width=w, height=h)


H = 203
pa = scatter_panel(A_POINTS + A_CORE, A_PCT, A_TITLE, "A", [-0.1537, 0.0739],
                   [-0.15, -0.1, -0.05, 0, 0.05], [-12150, 15750], 299, H,
                   [(11, 1), (256, 1), (11, 181), (256, 181)], (-50, -3), -7)
pb = scatter_panel(B_POINTS + B_CORE, B_PCT, B_TITLE, "B", [-0.110, 0.1175],
                   [-0.1, -0.05, 0, 0.05, 0.1], [-11050, 15750], 298, H,
                   [(18, 0), (263, 0), (18, 182), (263, 182)], (-53, -3), -7)
pc = scatter_panel(C_POINTS + C_CORE, C_PCT, C_TITLE, "C", [-0.105, 0.2065],
                   [-0.1, 0, 0.1, 0.2], [-11050, 15800], 299, H,
                   [(11, 4), (256, 4), (11, 183), (256, 183)], (-52, -3), -7)

# ---------------- panel D ----------------
n = len(WTP)
ddf = pd.DataFrame({
    "wtp": WTP * 3,
    "p": P_IMTX + P_IHCQ + P_IGCS,
    "series": [SERIES[0]] * n + [SERIES[1]] * n + [SERIES[2]] * n,
})
DW, DH = 319, 178
DXS = alt.Scale(domain=[-4500, 303500], nice=False, zero=False)
DYS = alt.Scale(domain=[-0.038, 0.918], nice=False, zero=False)
DXAX = alt.Axis(title="Maximum WTP per QALY", values=[0, 50000, 100000, 150000, 200000, 250000, 300000],
                labelExpr="datum.value == 0 ? '0' : (datum.value / 1000) + 'K'",
                grid=False, domain=True, domainColor="#aaa", tickSize=3, tickColor="#888",
                labelPadding=2, labelFontSize=10, labelColor="#222", labelFont=FONT,
                titleFont=FONT, titleFontSize=14, titleFontWeight="normal", titlePadding=0,
                titleColor="#111")
DYAX = alt.Axis(title="Probability cost-effective", values=[0, 0.2, 0.4, 0.6, 0.8],
                labelExpr="replace(format(datum.value, '.1~f'), '0.', '.')",
                labelAngle=270, labelAlign="center", labelBaseline="bottom",
                grid=True, gridColor="#ececec", domain=True, domainColor="#aaa",
                tickSize=4, tickColor="#888", labelPadding=2, labelFontSize=10,
                labelColor="#222", labelFont=FONT, titleFont=FONT, titleFontSize=14,
                titleFontWeight="normal", titlePadding=2, titleColor="#111")
dlines = alt.Chart(ddf).mark_line(strokeWidth=1.2).encode(
    x=alt.X("wtp:Q", scale=DXS, axis=DXAX),
    y=alt.Y("p:Q", scale=DYS, axis=DYAX),
    color=alt.Color("series:N", scale=alt.Scale(domain=SERIES, range=SERIES_COLORS), legend=None),
    strokeDash=alt.StrokeDash("series:N", scale=alt.Scale(domain=SERIES, range=SERIES_DASH), legend=None),
    order=alt.Order("wtp:Q"),
)
d_layers = [dlines]
# minor ticks
d_layers.append(alt.Chart(pd.DataFrame({"p": D_MINOR_P})).mark_rule(color="#999", strokeWidth=1).encode(
    y=alt.Y("p:Q", scale=DYS, axis=DYAX), x=alt.value(-2.5), x2=alt.value(0)))
d_layers.append(alt.Chart(pd.DataFrame({"wtp": D_MINOR_WTP})).mark_rule(color="#999", strokeWidth=1).encode(
    x=alt.X("wtp:Q", scale=DXS, axis=DXAX), y=alt.value(DH), y2=alt.value(DH + 2)))
# legend box
LX, LY = 48, 212
d_layers.append(alt.Chart(ONE).mark_rect(fill="white", stroke="#444", strokeWidth=1).encode(
    x=alt.value(LX), x2=alt.value(LX + 225), y=alt.value(LY), y2=alt.value(LY + 17)))
for i, name in enumerate(SERIES):
    x0 = LX + 5 + i * 78
    d_layers.append(alt.Chart(ONE).mark_rule(color=SERIES_COLORS[i], strokeDash=SERIES_DASH[i],
                                             strokeWidth=1.2).encode(
        x=alt.value(x0), x2=alt.value(x0 + 33), y=alt.value(LY + 8.5)))
    d_layers.append(text_layer(name, x0 + 38, LY + 9, 10, align="left", baseline="middle"))
d_layers.append(text_layer("D", -31, -7, 11, bold=True, align="left"))
d_layers.append(text_layer(D_TITLE, DW / 2, -9, 15))
pdd = alt.layer(*d_layers).properties(width=DW, height=DH)

row1 = alt.hconcat(pa, pb, spacing=22)
row2 = alt.hconcat(pc, pdd, spacing=15)
chart = alt.vconcat(row1, row2, spacing=20).properties(
    padding={"top": -4, "left": 0, "right": 0, "bottom": 0}).configure_view(
    stroke=None).configure(font=FONT)

chart.save("out.html", embed_options={"renderer": "svg", "actions": False})
